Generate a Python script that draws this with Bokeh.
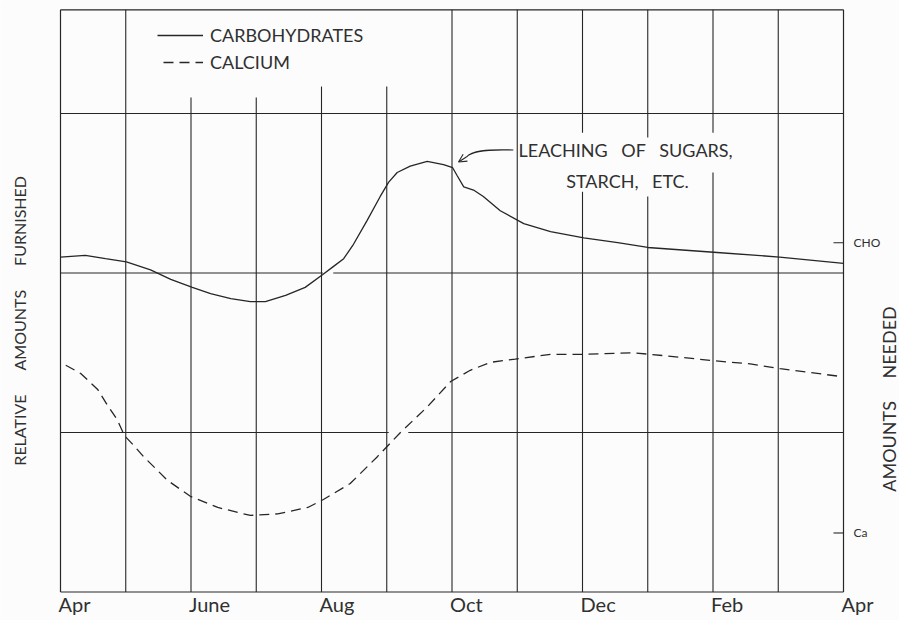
import math
from bokeh.plotting import figure
from bokeh.models import Range1d, Arrow, OpenHead, Legend, LegendItem
from bokeh.core.properties import value
from bokeh.embed import file_html
from bokeh.resources import INLINE

# ---------------- data (months after April, relative amounts) ----------------
carb_month = [0.00, 0.38, 0.69, 1.01, 1.38, 1.69, 2.02, 2.30, 2.61, 2.91, 3.14,
              3.45, 3.75, 4.02, 4.18, 4.34, 4.49, 4.70, 4.90, 5.03, 5.16, 5.36,
              5.62, 5.87, 6.01, 6.08, 6.18, 6.33, 6.48, 6.74, 7.10, 7.51, 8.02,
              8.54, 9.00, 10.01, 11.02, 12.00]
carb_value = [2.10, 2.11, 2.09, 2.07, 2.02, 1.96, 1.91, 1.87, 1.84, 1.82, 1.82,
              1.86, 1.91, 1.99, 2.04, 2.09, 2.18, 2.33, 2.48, 2.57, 2.63, 2.67,
              2.70, 2.68, 2.66, 2.61, 2.54, 2.52, 2.48, 2.39, 2.31, 2.26, 2.22,
              2.19, 2.16, 2.13, 2.10, 2.06]

ca_month = [0.00, 0.31, 0.57, 0.72, 0.87, 0.98, 1.12, 1.27, 1.64, 1.99, 2.41,
            2.91, 3.33, 3.79, 4.03, 4.44, 4.86, 5.21, 5.62, 5.98, 6.28, 6.59,
            6.97, 7.51, 8.02, 8.78, 9.55, 10.01, 10.57, 11.03, 11.98]
ca_value = [1.44, 1.37, 1.27, 1.17, 1.08, 0.98, 0.92, 0.85, 0.70, 0.60, 0.53,
            0.48, 0.49, 0.53, 0.58, 0.68, 0.85, 1.00, 1.16, 1.32, 1.39, 1.44,
            1.46, 1.49, 1.49, 1.50, 1.47, 1.45, 1.43, 1.40, 1.35]

tick_months = [0, 2, 4, 6, 8, 10, 12]
tick_labels = ["Apr", "June", "Aug", "Oct", "Dec", "Feb", "Apr"]

needed_names = ["CHO", "Ca"]
needed_values = [2.19, 0.37]

# chart box (months, relative amount)
box_left, box_right, box_bottom, box_top = 0, 12, 0, 3.65

# horizontal rulings (value, from month, to month)
hrule_value = [3, 2, 2, 1, 1]
hrule_from = [0, 0, 4.18, 0, 5.33]
hrule_to = [12, 4.02, 12, 5.03, 12]

# vertical rulings (month, from value, to value)
vrule_month = [1, 2, 3, 4, 5, 6, 7, 8, 8, 9, 9, 10, 10, 11]
vrule_from = [0, 0, 0, 0, 0, 0, 0, 0, 2.88, 0, 2.85, 0, 2.88, 0]
vrule_to = [3.65, 3.10, 3.10, 3.17, 3.17, 3.65, 3.65, 2.51, 3.65, 2.48, 3.65,
            2.63, 3.65, 3.65]

INK = "#262626"
TXT = "#303030"
BG = "#fcfcfc"
FONT = "Lato"

W, H = 899, 620
PX_PER_MONTH, PX_PER_UNIT = 65.25, 159.5
LEFT_PX, BOTTOM_PX = 60, 591.5

p = figure(width=W, height=H,
           x_range=Range1d(-LEFT_PX / PX_PER_MONTH, (W - LEFT_PX) / PX_PER_MONTH),
           y_range=Range1d(-(H - BOTTOM_PX) / PX_PER_UNIT, BOTTOM_PX / PX_PER_UNIT),
           output_backend="svg", toolbar_location=None,
           min_border_left=0, min_border_right=0, min_border_top=0,
           min_border_bottom=0, background_fill_color=BG, border_fill_color=BG,
           outline_line_color=None)
p.axis.visible = False
p.grid.visible = False

# box
p.segment(x0=[box_left, box_left, box_left, box_right],
          y0=[box_bottom, box_top, box_bottom, box_bottom],
          x1=[box_right, box_right, box_left, box_right],
          y1=[box_bottom, box_top, box_top, box_top],
          line_color=INK, line_width=1.2)
p.segment(x0=hrule_from, y0=hrule_value, x1=hrule_to, y1=hrule_value,
          line_color=INK, line_width=1.1)
p.segment(x0=vrule_month, y0=vrule_from, x1=vrule_month, y1=vrule_to,
          line_color=INK, line_width=1.1)

# month labels
p.text(x=tick_months, y=[box_bottom] * len(tick_months), text=tick_labels,
       x_offset=-2, y_offset=12, text_align="left", text_baseline="middle",
       text_font=value(FONT), text_font_size="20px", text_color=TXT)

# amounts needed marks
p.ray(x=[box_right] * len(needed_values), y=needed_values, length=10,
      length_units="screen", angle=math.pi, line_color=INK, line_width=1.1)
p.text(x=[box_right] * len(needed_values), y=needed_values, text=needed_names,
       x_offset=10, text_align="left", text_baseline="middle",
       text_font=value(FONT), text_font_size="12px", text_color=TXT)

# curves
r_carb = p.line(carb_month, carb_value, line_color=INK, line_width=1.3)
r_ca = p.line(ca_month, ca_value, line_color=INK, line_width=1.3,
              line_dash="10 6", line_dash_offset=10)

legend = Legend(items=[LegendItem(label="CARBOHYDRATES", renderers=[r_carb]),
                       LegendItem(label="CALCIUM", renderers=[r_ca])],
                location=(157, 547), orientation="vertical", padding=0, margin=0,
                spacing=5, glyph_width=46, glyph_height=20, label_standoff=7,
                label_text_font=FONT, label_text_font_size="18px",
                label_text_color=TXT, border_line_color=None,
                background_fill_alpha=0)
p.add_layout(legend)

# annotation
p.bezier(x0=[6.94], y0=[2.771], x1=[6.22], y1=[2.727], cx0=[6.51], cy0=[2.777],
         cx1=[6.30], cy1=[2.765], line_color=INK, line_width=1.1)
p.add_layout(Arrow(end=OpenHead(size=8, line_color=INK, line_width=1.1),
                   x_start=6.22, y_start=2.727, x_end=6.10, y_end=2.696,
                   line_color=INK, line_width=1.1))
p.text(x=[7.02, 7.75], y=[2.77, 2.575],
       text=["LEACHING\u2003OF\u2003SUGARS,", "STARCH,\u2003ETC."],
       text_align="left", text_baseline="middle",
       text_font=value(FONT), text_font_size="18px", text_color=TXT)

# side titles
p.text(x=[box_left], y=[1.70], text=["RELATIVE\u2003\u2003AMOUNTS\u2003\u2003FURNISHED"],
       x_offset=-41, angle=math.pi / 2, text_align="center", text_baseline="middle",
       text_font=value(FONT), text_font_size="16px", text_color=TXT)
p.text(x=[box_right], y=[1.21], text=["AMOUNTS\u2003\u2002NEEDED"],
       x_offset=45, angle=math.pi / 2, text_align="center", text_baseline="middle",
       text_font=value(FONT), text_font_size="18px", text_color=TXT)

open("out.html", "w").write(file_html(p, INLINE))
